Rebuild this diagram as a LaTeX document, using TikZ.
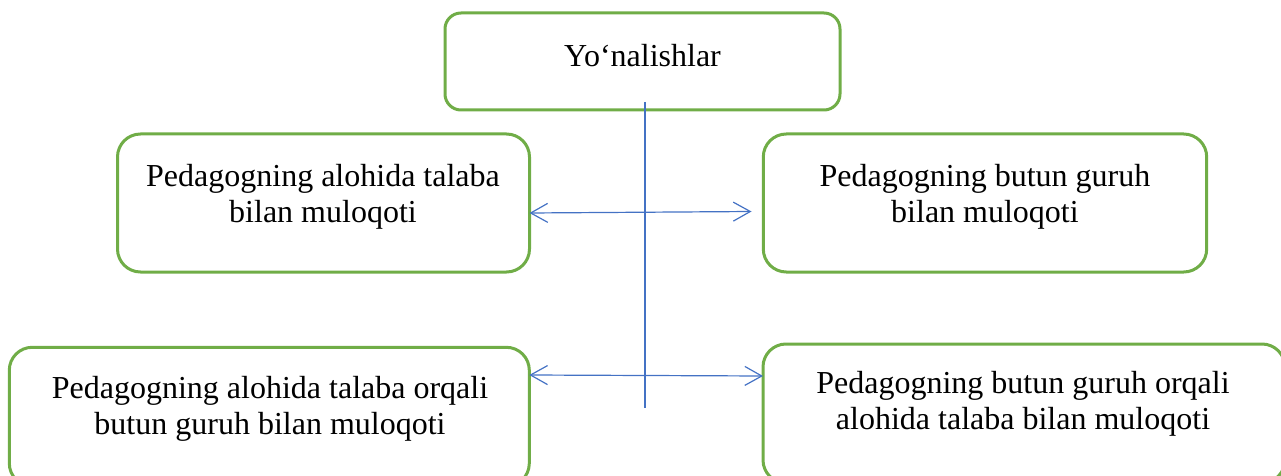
\documentclass[tikz,border=0pt]{standalone}
\usepackage{fontspec}
\setmainfont{Liberation Serif}
\usepackage{tikz}
\usetikzlibrary{arrows.meta}
\definecolor{rahmengruen}{HTML}{70AD47}
\definecolor{linienblau}{HTML}{4472C4}
\tikzset{
    kasten/.style={draw=rahmengruen, line width=1.5pt, rounded corners=11.5pt, inner sep=0pt, outer sep=0pt},
    schrift/.style={align=center, font=\fontsize{16}{18}\selectfont, inner sep=0pt},
    linie/.style={draw=linienblau, line width=0.8pt},
    pfeil/.style={draw=linienblau, line width=0.6pt, {Straight Barb[length=8.5pt,width=9.5pt]}-{Straight Barb[length=8.5pt,width=9.5pt]}}
}

\begin{document}
\begin{tikzpicture}[x=0.5pt, y=-0.5pt]
    \clip (0,0) rectangle (1281,476);

    % Kästen.
    \node[kasten, rounded corners=8pt, minimum width=197.5pt, minimum height=48.5pt] (ziel) at (642.5,61.5) {};
    \node[kasten, minimum width=206pt, minimum height=69pt] (links) at (323.5,203) {};
    \node[kasten, minimum width=221.7pt, minimum height=69pt] (rechts) at (985,203) {};
    \node[kasten, minimum width=260pt, minimum height=69.5pt] (untenlinks) at (269.3,416.8) {};
    \node[kasten, minimum width=261pt, minimum height=69.5pt] (untenrechts) at (1024,413.5) {};

    % Beschriftung.
    \node[schrift] (ziel-text) at (642.5,56) {Yo‘nalishlar};
    \node[schrift] (links-text) at (323,197) {Pedagogning alohida talaba\\bilan muloqoti};
    \node[schrift] (rechts-text) at (985,197) {Pedagogning butun guruh\\bilan muloqoti};
    \node[schrift] (untenlinks-text) at (270,408.5) {Pedagogning alohida talaba orqali\\butun guruh bilan muloqoti};
    \node[schrift] (untenrechts-text) at (1023,403.5) {Pedagogning butun guruh orqali\\alohida talaba bilan muloqoti};

    % Linien.
    \coordinate (mitte-oben) at (645,102);
    \coordinate (mitte-unten) at (645,407.5);
    \coordinate (spitze) at (751.5,211.5);
    \draw[linie] (mitte-oben) -- (mitte-unten);
    \draw[pfeil] ([yshift=-5pt]links.east) -- (spitze);
    \draw[pfeil] ([yshift=20.9pt]untenlinks.east) -- ([yshift=18.75pt]untenrechts.west);
\end{tikzpicture}
\end{document}
